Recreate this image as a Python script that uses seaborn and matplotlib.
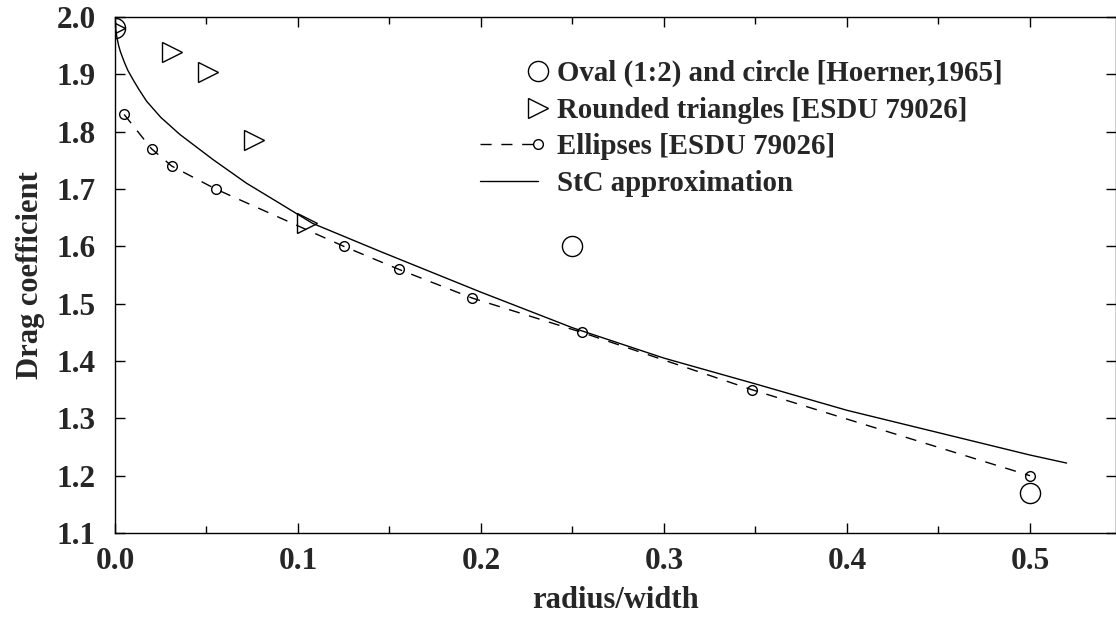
import numpy as np
import pandas as pd
import seaborn as sns
import matplotlib
matplotlib.use("Agg")
import matplotlib.pyplot as plt
from matplotlib.legend_handler import HandlerLine2D
from matplotlib.lines import Line2D
from matplotlib.ticker import MultipleLocator, FormatStrFormatter

# Hoerner oval (1:2) and circle
hoerner_x = [0.0, 0.25, 0.5]
hoerner_cd = [1.98, 1.60, 1.17]

# ESDU 79026 rounded triangles
tri_x = [0.0, 0.031, 0.051, 0.076, 0.105]
tri_cd = [1.98, 1.939, 1.904, 1.785, 1.64]

# ESDU 79026 ellipses
ell_x = [0.005, 0.02, 0.031, 0.055, 0.125, 0.155, 0.195, 0.255, 0.348, 0.5]
ell_cd = [1.83, 1.77, 1.74, 1.70, 1.60, 1.56, 1.51, 1.45, 1.35, 1.20]

# StC approximation
stc_x = [0.0, 0.0005, 0.001, 0.002, 0.003, 0.005, 0.007, 0.01, 0.013, 0.0173,
         0.025, 0.0355, 0.0537, 0.0719, 0.09, 0.108, 0.145, 0.2, 0.25, 0.3,
         0.35, 0.4, 0.45, 0.5, 0.52]
stc_cd = [2.0, 1.977, 1.965, 1.95, 1.939, 1.922, 1.907, 1.89, 1.874, 1.853,
          1.825, 1.795, 1.751, 1.710, 1.675, 1.64, 1.591, 1.52, 1.458, 1.405,
          1.36, 1.314, 1.275, 1.236, 1.222]

labels = ["Oval (1:2) and circle [Hoerner,1965]",
          "Rounded triangles [ESDU 79026]",
          "Ellipses [ESDU 79026]",
          "StC approximation"]


class EndMarkerHandler(HandlerLine2D):
    # single legend marker sits at the right end of the handle line
    def create_artists(self, *args, **kwargs):
        arts = super().create_artists(*args, **kwargs)
        for a in arts:
            a.set_markevery([2])
        return arts


sns.set_theme(style="ticks")
plt.rcParams['font.family'] = ['Liberation Serif', 'DejaVu Serif']
plt.rcParams['font.weight'] = 'bold'
plt.rcParams['axes.labelweight'] = 'bold'

fig = plt.figure(figsize=(11.16, 6.19), dpi=100)
ax = fig.add_axes([115 / 1116, 1 - 533 / 619, 1001 / 1116, 516 / 619])

stc = pd.DataFrame({'x': stc_x, 'cd': stc_cd})
ell = pd.DataFrame({'x': ell_x, 'cd': ell_cd})
hoe = pd.DataFrame({'x': hoerner_x, 'cd': hoerner_cd})
tri = pd.DataFrame({'x': tri_x, 'cd': tri_cd})

dash = (0, (8, 7))

sns.lineplot(data=stc, x='x', y='cd', ax=ax, color='black', lw=1.0,
             estimator=None, sort=False)
sns.lineplot(data=ell, x='x', y='cd', ax=ax, color='black', lw=1.0,
             linestyle=dash, marker='o', ms=7, mfc='none', mec='black',
             mew=1.0, estimator=None, sort=False)
sns.lineplot(data=tri, x='x', y='cd', ax=ax, color='black', linestyle='none',
             marker='>', ms=15, mfc='none', mec='black', mew=1.0,
             estimator=None, sort=False)
sns.lineplot(data=hoe, x='x', y='cd', ax=ax, color='black', linestyle='none',
             marker='o', ms=14.5, mfc='none', mec='black', mew=1.0,
             estimator=None, sort=False)

ax.set_xlim(0, 0.547)
ax.set_ylim(1.1, 2.0)
ax.xaxis.set_major_locator(MultipleLocator(0.1))
ax.xaxis.set_minor_locator(MultipleLocator(0.05))
ax.yaxis.set_major_locator(MultipleLocator(0.1))
ax.xaxis.set_major_formatter(FormatStrFormatter('%.1f'))
ax.yaxis.set_major_formatter(FormatStrFormatter('%.1f'))
ax.tick_params(which='both', direction='in', top=True, right=True,
               labelsize=22.5, color='black', width=1.0)
ax.tick_params(which='major', length=7)
ax.tick_params(which='minor', length=5)
ax.tick_params(axis='y', pad=14)
ax.tick_params(axis='x', pad=10)
for s in ax.spines.values():
    s.set_linewidth(1.0)
    s.set_color('black')

ax.set_xlabel("radius/width", fontsize=22, labelpad=7.5)
ax.set_ylabel("Drag coefficient", fontsize=22, labelpad=8)

handles = [
    Line2D([], [], linestyle='none', marker='o', ms=14.5, mfc='none', mec='black', mew=1.0),
    Line2D([], [], linestyle='none', marker='>', ms=15, mfc='none', mec='black', mew=1.0),
    Line2D([], [], color='black', lw=1.0, linestyle=dash, marker='o', ms=7,
           mfc='none', mec='black', mew=1.0),
    Line2D([], [], color='black', lw=1.0),
]
ax.legend(handles, labels, loc='upper left', bbox_to_anchor=(0.365, 0.9167),
          bbox_transform=ax.transAxes, frameon=False, fontsize=20.8,
          borderpad=0, borderaxespad=0, handlelength=2.0, handletextpad=0.65,
          labelspacing=0.33, numpoints=1,
          handler_map={Line2D: EndMarkerHandler()})

fig.savefig("out.png", dpi=100, facecolor='white')
